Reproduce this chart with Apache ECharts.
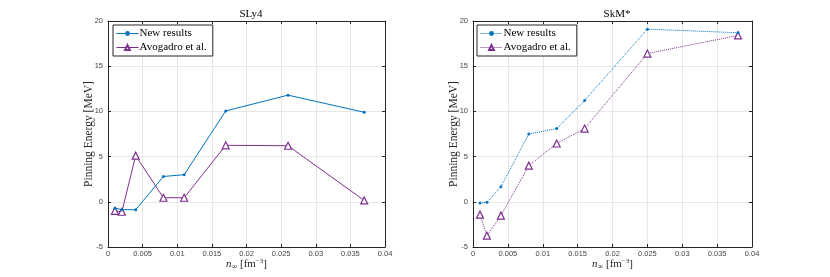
<!DOCTYPE html>
<html><head><meta charset="utf-8">
<script src="https://cdn.jsdelivr.net/npm/echarts@6/dist/echarts.min.js"></script>
<style>html,body{margin:0;padding:0;background:#fff}#c{width:830px;height:277px}</style>
</head><body><div id="c"></div>
<script>
const titles = ['SLy4', 'SkM*'];
const seriesNames = ['New results', 'Avogadro et al.'];
const sly4X_new = [0.001, 0.002, 0.004, 0.008, 0.011, 0.017, 0.026, 0.037];
const sly4Y_new = [-0.7, -0.87, -0.87, 2.8, 3.0, 10.05, 11.8, 9.9];
const sly4X_avo = [0.001, 0.002, 0.004, 0.008, 0.011, 0.017, 0.026, 0.037];
const sly4Y_avo = [-1.0, -1.1, 5.1, 0.45, 0.45, 6.25, 6.2, 0.15];
const skmX_new = [0.001, 0.002, 0.004, 0.008, 0.012, 0.016, 0.025, 0.038];
const skmY_new = [-0.13, -0.06, 1.67, 7.5, 8.1, 11.2, 19.1, 18.7];
const skmX_avo = [0.001, 0.002, 0.004, 0.008, 0.012, 0.016, 0.025, 0.038];
const skmY_avo = [-1.42, -3.75, -1.53, 4.0, 6.45, 8.1, 16.4, 18.4];
const xTicks = [0, 0.005, 0.01, 0.015, 0.02, 0.025, 0.03, 0.035, 0.04];
const yTicks = [-5, 0, 5, 10, 15, 20];

const BLUE = '#0072BD', PURPLE = '#7E2F8E';
const SERIF = '"Liberation Serif","DejaVu Serif",serif';
const SANS = '"Liberation Sans",Arial,sans-serif';
const AX = '#262626', LBL = '#444';
const zip = (a, b) => a.map((v, i) => [v, b[i]]);

const grids = [
  {left: 108, right: 445, top: 21, bottom: 30},
  {left: 473, right: 78, top: 21, bottom: 30}
];
const xAxes = [], yAxes = [];
grids.forEach((g, i) => {
  xAxes.push({
    type: 'value', gridIndex: i, position: 'bottom', min: xTicks[0], max: xTicks[xTicks.length - 1], interval: xTicks[1] - xTicks[0],
    axisLine: {onZero: false, lineStyle: {color: AX, width: 1}},
    axisTick: {inside: true, length: 3, lineStyle: {color: AX}},
    axisLabel: {color: LBL, fontSize: 7.5, fontFamily: SANS, margin: 3,
      formatter: v => { const r = Math.round(v * 1000) / 1000; return r === 0 ? '0' : String(r); }},
    splitLine: {show: true, lineStyle: {color: '#e6e6e6', width: 1}},
    name: '{i|n}{s|\u221e} [fm{p|\u22123}]', nameLocation: 'middle', nameGap: 11, nameMoveOverlap: false,
    nameTextStyle: {fontFamily: SERIF, fontSize: 11, color: '#262626',
      rich: {i: {fontFamily: SERIF, fontStyle: 'italic', fontSize: 11, color: '#262626'},
             s: {fontFamily: SERIF, fontSize: 8, verticalAlign: 'bottom', padding: [5, 0, 0, 0], color: '#262626'},
             p: {fontFamily: SERIF, fontSize: 7, verticalAlign: 'top', padding: [0, 0, 6, 0], color: '#262626'}}}
  });
  xAxes.push({
    type: 'value', gridIndex: i, position: 'top', min: xTicks[0], max: xTicks[xTicks.length - 1], interval: xTicks[1] - xTicks[0],
    axisLine: {onZero: false, lineStyle: {color: AX, width: 1}},
    axisTick: {inside: true, length: 3, lineStyle: {color: AX}},
    axisLabel: {show: false}, splitLine: {show: false}
  });
  yAxes.push({
    type: 'value', gridIndex: i, position: 'left', min: yTicks[0], max: yTicks[yTicks.length - 1], interval: yTicks[1] - yTicks[0],
    axisLine: {show: true, onZero: false, lineStyle: {color: AX, width: 1}},
    axisTick: {show: true, inside: true, length: 3, lineStyle: {color: AX}},
    axisLabel: {color: LBL, fontSize: 7.5, fontFamily: SANS, margin: 5},
    splitLine: {show: true, lineStyle: {color: '#e6e6e6', width: 1}},
    name: 'Pinning Energy [MeV]', nameLocation: 'middle', nameGap: 13, nameMoveOverlap: false,
    nameTextStyle: {fontFamily: SERIF, fontSize: 11.5, color: '#262626'}
  });
  yAxes.push({
    type: 'value', gridIndex: i, position: 'right', min: yTicks[0], max: yTicks[yTicks.length - 1], interval: yTicks[1] - yTicks[0],
    axisLine: {show: true, onZero: false, lineStyle: {color: AX, width: 1}},
    axisTick: {show: true, inside: true, length: 3, lineStyle: {color: AX}},
    axisLabel: {show: false}, splitLine: {show: false}
  });
});

function mk(name, data, xi, yi, color, lineType, tri) {
  return {
    name, type: 'line', xAxisIndex: xi, yAxisIndex: yi, data,
    symbol: tri ? 'triangle' : 'circle', symbolSize: tri ? 7 : 3,
    showAllSymbol: true,
    lineStyle: {color, width: 1, type: lineType},
    itemStyle: tri ? {color: '#fff', borderColor: color, borderWidth: 1.2} : {color, borderColor: color, borderWidth: 0},
    color, animation: false, z: tri ? 3 : 4
  };
}

const legendBase = {
  orient: 'vertical', top: 25,
  itemWidth: 22, itemHeight: 6, itemGap: 3, padding: [3, 6, 3, 3], backgroundColor: '#fff',
  borderColor: AX, borderWidth: 1,
  lineStyle: {width: 1},
  textStyle: {fontFamily: SERIF, fontSize: 11, color: '#000', padding: [0, 0, 0, -4]}
};

const option = {
  animation: false,
  title: [
    {text: titles[0], left: 246, top: 4, textAlign: 'center', textStyle: {fontFamily: SERIF, fontSize: 11, fontWeight: 'normal', color: '#000'}},
    {text: titles[1], left: 612, top: 4, textAlign: 'center', textStyle: {fontFamily: SERIF, fontSize: 11, fontWeight: 'normal', color: '#000'}}
  ],
  grid: grids.map(g => Object.assign({show: false, containLabel: false, outerBoundsMode: 'none'}, g)),
  xAxis: xAxes, yAxis: yAxes,
  legend: [
    Object.assign({}, legendBase, {left: 113, data: [seriesNames[0], seriesNames[1]]}),
    Object.assign({}, legendBase, {left: 477, data: [seriesNames[0] + '\u200b', seriesNames[1] + '\u200b']})
  ],
  series: [
    mk(seriesNames[0], zip(sly4X_new, sly4Y_new), 0, 0, BLUE, 'solid', false),
    mk(seriesNames[1], zip(sly4X_avo, sly4Y_avo), 0, 0, PURPLE, 'solid', true),
    mk(seriesNames[0] + '\u200b', zip(skmX_new, skmY_new), 2, 2, BLUE, 'dotted', false),
    mk(seriesNames[1] + '\u200b', zip(skmX_avo, skmY_avo), 2, 2, PURPLE, 'dotted', true)
  ]
};
const chart = echarts.init(document.getElementById('c'), null, {renderer: 'canvas'});
chart.setOption(option);
</script></body></html>
